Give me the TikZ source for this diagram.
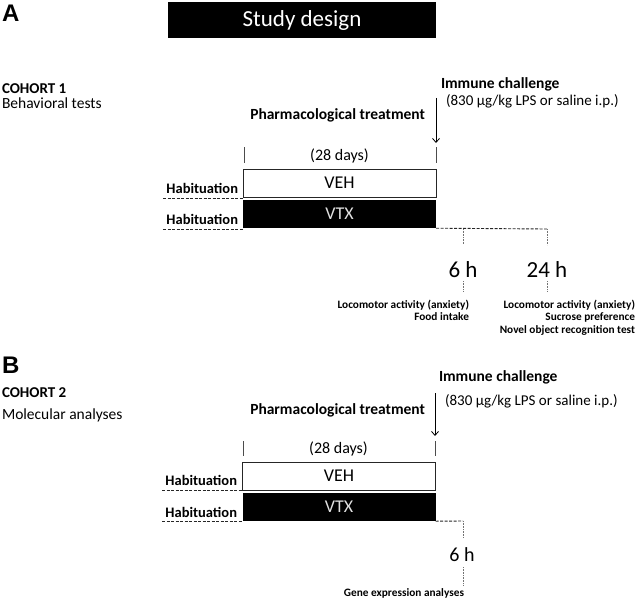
\documentclass[tikz,border=0pt]{standalone}
\usepackage{fontspec}
\setmainfont{Carlito}
\newfontfamily\arialfont{Liberation Sans}
\usetikzlibrary{arrows.meta}
\tikzset{
  txt/.style={inner sep=0pt, outer sep=0pt},
  paneltag/.style={txt, anchor=base west, font=\arialfont\bfseries\fontsize{24}{28}\selectfont},
  cohort/.style={txt, anchor=base west, font=\bfseries\fontsize{15}{18}\selectfont},
  sublbl/.style={txt, anchor=base west, font=\fontsize{15.5}{18}\selectfont},
  immune/.style={txt, anchor=base west, font=\bfseries\fontsize{15.5}{18}\selectfont},
  dose/.style={txt, anchor=base west, font=\fontsize{15}{18}\selectfont},
  pharm/.style={txt, anchor=base east, font=\bfseries\fontsize{15.5}{18}\selectfont},
  days/.style={txt, font=\fontsize{16}{19}\selectfont},
  vehbox/.style={draw=black!85, line width=0.9pt, fill=white, inner sep=0pt, minimum width=193pt, minimum height=28pt, font=\fontsize{18}{21}\selectfont},
  vtxbox/.style={draw=none, fill=black, inner sep=0pt, minimum width=193pt, minimum height=28pt, text=black!12, font=\fontsize{18}{21}\selectfont},
  habit/.style={txt, anchor=base east, font=\bfseries\fontsize{14.5}{17}\selectfont},
  hdash/.style={black!85, line width=0.9pt, dash pattern=on 3pt off 1.5pt},
  vdot/.style={black!55, line width=0.8pt, dash pattern=on 1pt off 0.6pt},
  tick/.style={black!70, line width=0.8pt},
  hours/.style={txt, font=\fontsize{23}{27}\selectfont},
  hoursb/.style={txt, font=\fontsize{20}{24}\selectfont},
  outcome/.style={txt, anchor=base east, font=\bfseries\fontsize{11.3}{13}\selectfont},
  arr/.style={black, line width=0.8pt, -{Straight Barb[length=4pt,width=7pt]}},
}
\begin{document}
\begin{tikzpicture}[x=1pt,y=-1pt]
\useasboundingbox (0,0) rectangle (636,599);

% ---------------- Panel A ----------------
\node[paneltag] (tagA) at (2,22) {A};
\node[fill=black, minimum width=268pt, minimum height=36pt, inner sep=0pt, text=white,
      font=\fontsize{23}{27}\selectfont] (title) at (302,20) {Study design};

\node[cohort] (c1) at (2,93) {COHORT 1};
\node[sublbl] (c1s) at (2,108.5) {Behavioral tests};

\node[immune] (imA) at (441,88.5) {Immune challenge};
\node[dose] (doseA) at (446,106) {(830 µg/kg LPS or saline i.p.)};
\node[pharm] (phA) at (425,119) {Pharmacological treatment};

\coordinate (arA1) at (436,98);
\coordinate (arA2) at (436,143);
\draw[arr] (arA1) -- (arA2);

\coordinate (tA1) at (244,147); \coordinate (tA2) at (244,163);
\coordinate (tA3) at (436,147); \coordinate (tA4) at (436,163);
\draw[tick] (tA1) -- (tA2);
\draw[tick] (tA3) -- (tA4);
\node[days] (daysA) at (339.5,156) {(28 days)};

\node[vehbox] (vehA) at (339.5,183) {VEH};
\node[vtxbox] (vtxA) at (339.5,214) {VTX};

\node[habit] (h1A) at (238,193) {Habituation};
\node[habit] (h2A) at (238,224.5) {Habituation};
\coordinate (dA1) at (163,198); \coordinate (dA2) at (243,198);
\coordinate (dA3) at (163,229); \coordinate (dA4) at (243,229);
\draw[hdash] (dA1) -- (dA2);
\draw[hdash] (dA3) -- (dA4);

\coordinate (jA6) at (463,229);
\coordinate (jA24) at (547,229);
\draw[hdash] (vtxA.south east) -- (jA24);
\node[hours] (h6A) at (463,270) {6 h};
\node[hours] (h24A) at (547,270) {24 h};
\draw[vdot] (jA6) -- (463,244);
\draw[vdot] (jA24) -- (547,245);
\draw[vdot] (463,281) -- (463,291);
\draw[vdot] (547,281) -- (547,291);

\node[outcome] (o1) at (469,308) {Locomotor activity (anxiety)};
\node[outcome] (o2) at (469,320.5) {Food intake};
\node[outcome] (o3) at (635,308) {Locomotor activity (anxiety)};
\node[outcome] (o4) at (635,320.5) {Sucrose preference};
\node[outcome] (o5) at (635,333) {Novel object recognition test};

% ---------------- Panel B ----------------
\node[paneltag] (tagB) at (2,373) {B};
\node[cohort] (c2) at (2,397) {COHORT 2};
\node[sublbl] (c2s) at (2,419.5) {Molecular analyses};

\node[immune] (imB) at (439,381) {Immune challenge};
\node[dose] (doseB) at (445,405) {(830 µg/kg LPS or saline i.p.)};
\node[pharm] (phB) at (425,414) {Pharmacological treatment};

\coordinate (arB1) at (435,393);
\coordinate (arB2) at (435,436);
\draw[arr] (arB1) -- (arB2);

\coordinate (tB1) at (243,441); \coordinate (tB2) at (243,456);
\coordinate (tB3) at (435,441); \coordinate (tB4) at (435,456);
\draw[tick] (tB1) -- (tB2);
\draw[tick] (tB3) -- (tB4);
\node[days] (daysB) at (338.5,449) {(28 days)};

\node[vehbox] (vehB) at (339,476) {VEH};
\node[vtxbox] (vtxB) at (339,507) {VTX};

\node[habit] (h1B) at (237,485) {Habituation};
\node[habit] (h2B) at (237,517) {Habituation};
\coordinate (dB1) at (162,490); \coordinate (dB2) at (243,490);
\coordinate (dB3) at (162,521); \coordinate (dB4) at (243,521);
\draw[hdash] (dB1) -- (dB2);
\draw[hdash] (dB3) -- (dB4);

\coordinate (jB6) at (463,521);
\draw[hdash] (vtxB.south east) -- (jB6);
\draw[vdot] (jB6) -- (463,538);
\node[hoursb] (h6B) at (462,554.5) {6 h};
\draw[vdot] (463,567) -- (463,585);
\node[outcome] (o6) at (464,596) {Gene expression analyses};
\end{tikzpicture}
\end{document}
